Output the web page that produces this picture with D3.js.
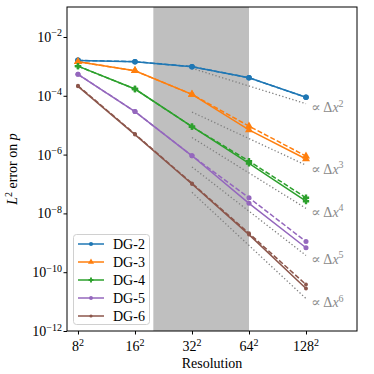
<!DOCTYPE html>
<html><head><meta charset="utf-8">
<script src="https://cdn.jsdelivr.net/npm/d3@7"></script>
<style>body{margin:0;background:#fff}svg{display:block}</style>
</head><body><svg id="c" width="374" height="374" font-family="'Liberation Serif', 'DejaVu Serif', serif"></svg>
<script>
const resolutions = [8, 16, 32, 64, 128];
const tickLabels = ["8", "16", "32", "64", "128"];
const seriesNames = ["DG-2", "DG-3", "DG-4", "DG-5", "DG-6"];
const colors = ["#1f77b4", "#ff7f0e", "#2ca02c", "#9467bd", "#8c564b"];
// solid series
const dg2 = [1.6e-3, 1.45e-3, 9.8e-4, 4.1e-4, 8.9e-5];
const dg3 = [1.45e-3, 7.1e-4, 1.12e-4, 6.9e-6, 7.1e-7];
const dg4 = [1.02e-3, 1.7e-4, 8.9e-6, 5.0e-7, 2.6e-8];
const dg5 = [5.4e-4, 2.9e-5, 9.1e-7, 2.2e-8, 6.8e-10];
const dg6 = [2.1e-4, 4.8e-6, 1.0e-7, 1.9e-9, 2.8e-11];
// dashed series
const dg2b = [1.6e-3, 1.45e-3, 9.8e-4, 4.1e-4, 8.9e-5];
const dg3b = [1.45e-3, 7.1e-4, 1.12e-4, 9.3e-6, 8.9e-7];
const dg4b = [1.02e-3, 1.7e-4, 8.9e-6, 6.0e-7, 3.4e-8];
const dg5b = [5.4e-4, 2.9e-5, 9.1e-7, 3.4e-8, 1.1e-9];
const dg6b = [2.2e-4, 5.0e-6, 1.05e-7, 2.1e-9, 3.8e-11];
// reference slopes (dotted), value at 32
const refOrders = [2, 3, 4, 5, 6];
const refStart = [8.6e-4, 2.8e-5, 3.8e-6, 3.8e-7, 5.2e-8];
const yTicks = [1e-2, 1e-4, 1e-6, 1e-8, 1e-10, 1e-12];
const yTickExp = ["−2", "−4", "−6", "−8", "−10", "−12"];
const band = [20, 64];

const solid = [dg2, dg3, dg4, dg5, dg6];
const dashed = [dg2b, dg3b, dg4b, dg5b, dg6b];
const plusP = {draw(ctx, size) { const r = Math.sqrt(size) / 2, w = r * 0.38;
  ctx.moveTo(-w, -r); ctx.lineTo(w, -r); ctx.lineTo(w, -w); ctx.lineTo(r, -w); ctx.lineTo(r, w);
  ctx.lineTo(w, w); ctx.lineTo(w, r); ctx.lineTo(-w, r); ctx.lineTo(-w, w); ctx.lineTo(-r, w);
  ctx.lineTo(-r, -w); ctx.lineTo(-w, -w); ctx.closePath(); }};
const symbols = [d3.symbolCircle, d3.symbolTriangle, plusP, d3.symbolCircle, d3.symbolCircle];
const symSizes = [24, 28, 40, 20, 12];
const legSizes = [14, 16, 24, 12, 8];

const FS = 14, SS = 10;
const L = 67, R = 357, T = 7, B = 331;
const svg = d3.select("#c");
const x = d3.scaleLog().base(2).domain([7.0, 238]).range([L, R]);
const y = d3.scaleLog().domain([1e-12, Math.pow(10, -0.98)]).range([B, T]);

svg.append("defs").append("clipPath").attr("id", "clp")
  .append("rect").attr("x", L).attr("y", T).attr("width", R - L).attr("height", B - T);

// band
svg.append("rect").attr("x", x(band[0])).attr("y", T).attr("width", x(band[1]) - x(band[0]))
  .attr("height", B - T).attr("fill", "#bfbfbf");

const g = svg.append("g").attr("clip-path", "url(#clp)");

// reference dotted lines
refOrders.forEach((p, i) => {
  const pts = [32, 128].map(r => [r, refStart[i] * Math.pow(32 / r, p)]);
  g.append("path").attr("d", d3.line().x(d => x(d[0])).y(d => y(d[1]))(pts))
    .attr("fill", "none").attr("stroke", "#808080").attr("stroke-width", 1.3)
    .attr("stroke-dasharray", "1.3,2.2");
  const t = svg.append("text").attr("x", x(128 * 1.065)).attr("y", y(pts[1][1]) + 8.5)
    .attr("fill", "#8a8a8a").attr("font-size", FS);
  t.append("tspan").text("∝ Δ");
  t.append("tspan").attr("font-style", "italic").text("x");
  t.append("tspan").attr("font-size", SS).attr("dy", -5.5).text(p);
});

const line = d3.line().x((d, i) => x(resolutions[i])).y(d => y(d));
// dashed
dashed.forEach((s, k) => {
  g.append("path").attr("d", line(s)).attr("fill", "none").attr("stroke", colors[k])
    .attr("stroke-width", 1.5).attr("stroke-dasharray", "5,2.2");
  s.forEach((v, i) => g.append("path").attr("d", d3.symbol().type(symbols[k]).size(symSizes[k])())
    .attr("transform", `translate(${x(resolutions[i])},${y(v)})`).attr("fill", colors[k]));
});
// solid
solid.forEach((s, k) => {
  g.append("path").attr("d", line(s)).attr("fill", "none").attr("stroke", colors[k])
    .attr("stroke-width", 1.5);
  s.forEach((v, i) => g.append("path").attr("d", d3.symbol().type(symbols[k]).size(symSizes[k])())
    .attr("transform", `translate(${x(resolutions[i])},${y(v)})`).attr("fill", colors[k]));
});

// frame
svg.append("rect").attr("x", L).attr("y", T).attr("width", R - L).attr("height", B - T)
  .attr("fill", "none").attr("stroke", "#000").attr("stroke-width", 1);

// x axis
const xa = svg.append("g").attr("transform", `translate(0,${B})`)
  .call(d3.axisBottom(x).tickValues(resolutions).tickSize(3.5).tickFormat(""));
xa.select(".domain").remove();
xa.selectAll(".tick line").attr("stroke", "#000");
resolutions.forEach((r, i) => {
  const t = svg.append("text").attr("x", x(r)).attr("y", B + 20).attr("text-anchor", "middle")
    .attr("font-size", FS);
  t.append("tspan").text(tickLabels[i]);
  t.append("tspan").attr("font-size", SS).attr("dy", -5.5).text("2");
});
svg.append("text").attr("x", 212).attr("y", 368).attr("text-anchor", "middle")
  .attr("font-size", FS).text("Resolution");

// y axis
const ya = svg.append("g").attr("transform", `translate(${L},0)`)
  .call(d3.axisLeft(y).tickValues(yTicks).tickSize(3.5).tickFormat(""));
ya.select(".domain").remove();
ya.selectAll(".tick line").attr("stroke", "#000");
yTicks.forEach((v, i) => {
  const t = svg.append("text").attr("x", L - 5).attr("y", y(v) + 5).attr("text-anchor", "end")
    .attr("font-size", FS);
  t.append("tspan").text("10");
  t.append("tspan").attr("font-size", SS).attr("dy", -5.5).text(yTickExp[i]);
});
const yl = svg.append("text").attr("transform", `translate(17,${(T + B) / 2}) rotate(-90)`)
  .attr("text-anchor", "middle").attr("font-size", FS);
yl.append("tspan").attr("font-style", "italic").text("L");
yl.append("tspan").attr("font-size", SS).attr("dy", -5.5).text("2");
yl.append("tspan").attr("dy", 5.5).text(" error on ");
yl.append("tspan").attr("font-style", "italic").text("p");

// legend
const lg = svg.append("g");
lg.append("rect").attr("x", 73.5).attr("y", 234.5).attr("width", 76).attr("height", 90).attr("rx", 3)
  .attr("fill", "#fff").attr("fill-opacity", 0.85).attr("stroke", "#d0d0d0");
seriesNames.forEach((n, k) => {
  const yy = 244 + k * 18;
  lg.append("line").attr("x1", 78).attr("x2", 104).attr("y1", yy).attr("y2", yy)
    .attr("stroke", colors[k]).attr("stroke-width", 1.5);
  lg.append("path").attr("d", d3.symbol().type(symbols[k]).size(legSizes[k])())
    .attr("transform", `translate(91,${yy})`).attr("fill", colors[k]);
  lg.append("text").attr("x", 113).attr("y", yy + 5).attr("font-size", FS).text(n);
});
</script></body></html>
